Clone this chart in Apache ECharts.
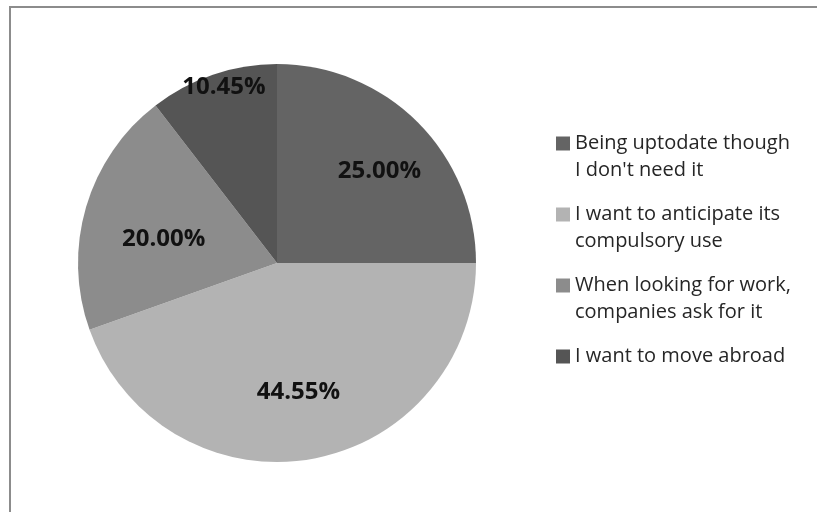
<!DOCTYPE html>
<html>
<head>
<meta charset="utf-8">
<script src="https://cdn.jsdelivr.net/npm/echarts@6/dist/echarts.min.js"></script>
<style>
  html, body { margin: 0; padding: 0; background: #ffffff; }
  #chart { width: 817px; height: 512px; }
</style>
</head>
<body>
<div id="chart"></div>
<script>
// Data
const categories = [
  "Being uptodate though\nI don't need it",
  "I want to anticipate its\ncompulsory use",
  "When looking for work,\ncompanies ask for it",
  "I want to move abroad"
];
const values = [25.00, 44.55, 20.00, 10.45];

// Styles (not data)
const colors = ['#646464', '#b3b3b3', '#8c8c8c', '#555555'];
const labelOffsets = [[30, -19], [4, 28], [-15, 5], [-20, -79]];

const chart = echarts.init(document.getElementById('chart'), null, { renderer: 'canvas' });

chart.setOption({
  animation: false,
  backgroundColor: '#ffffff',
  color: colors,
  graphic: [{
    type: 'rect',
    shape: { x: 10, y: 7, width: 1000, height: 1000 },
    style: { fill: 'none', stroke: '#8c8c8c', lineWidth: 2 },
    silent: true,
    z: 0
  }],
  legend: {
    orient: 'vertical',
    left: 556,
    top: 103,
    padding: 0,
    itemGap: -10,
    itemWidth: 14,
    itemHeight: 14,
    icon: 'rect',
    selectedMode: false,
    data: categories,
    formatter: function (name) {
      // put the first line on the marker's centre, as in the original
      const lines = name.split('\n').length;
      return ' \n' + name + (lines > 1 ? '' : '\n ');
    },
    textStyle: {
      fontFamily: 'Open Sans',
      fontSize: 20,
      lineHeight: 27,
      color: '#262626'
    }
  },
  series: [{
    type: 'pie',
    center: [277, 263],
    radius: [0, 199],
    startAngle: 90,
    clockwise: true,
    avoidLabelOverlap: false,
    itemStyle: { borderWidth: 0 },
    emphasis: { disabled: true },
    label: {
      show: true,
      position: 'inside',
      formatter: function (p) { return p.value.toFixed(2) + '%'; },
      fontFamily: 'Open Sans',
      fontWeight: 'bold',
      fontSize: 24,
      color: '#111111'
    },
    labelLine: { show: false },
    labelLayout: function (p) {
      const o = labelOffsets[p.dataIndex];
      return { dx: o[0], dy: o[1] };
    },
    data: categories.map(function (c, i) { return { name: c, value: values[i] }; })
  }]
});
</script>
</body>
</html>
